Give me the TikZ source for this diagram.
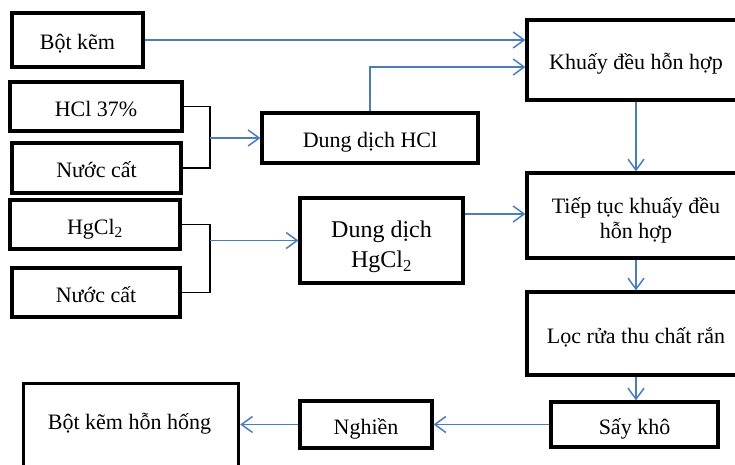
\documentclass[tikz,border=0pt]{standalone}
\usepackage{fontspec}
\setmainfont{Liberation Serif}
\usetikzlibrary{arrows.meta}
\definecolor{arrowblue}{RGB}{74,126,187}
\begin{document}
\begin{tikzpicture}[x=1pt,y=-1pt,
  box/.style={draw, line width=3.2pt, inner sep=0pt, align=center, font=\fontsize{22}{25}\selectfont},
  low/.style={text height=19pt, text depth=0pt},
  txt/.style={inner sep=0pt, font=\fontsize{22}{25}\selectfont},
  flow/.style={draw=arrowblue, line width=1.5pt, -{Straight Barb[length=11pt,width=16pt,line width=1.5pt]}},
  brk/.style={draw=black, line width=1.3pt}]
\useasboundingbox (0,0) rectangle (735,464);
\clip (0,0) rectangle (735,464);
% left inputs
\node[box, low, minimum width=131, minimum height=54] (bk) at (77.5,40) {Bột kẽm};
\node[box, low, minimum width=172, minimum height=49] (hcl) at (96,106.5) {HCl 37\%};
\node[box, low, minimum width=169, minimum height=50] (nc1) at (96.5,168) {Nước cất};
\node[box, low, minimum width=170, minimum height=49] (hg) at (95,224.5) {HgCl\textsubscript{2}};
\node[box, low, minimum width=168, minimum height=49] (nc2) at (96,292.5) {Nước cất};
% middle
\node[box, low, minimum width=216, minimum height=50] (ddhcl) at (370,138) {Dung dịch HCl};
\node[box, minimum width=163, minimum height=85, font=\fontsize{24}{30}\selectfont] (ddhg) at (381.5,240.5) {\rule{0pt}{30pt}Dung dịch\\HgCl\textsubscript{2}};
% right column
\node[box, low, minimum width=218, minimum height=80] (khuay) at (636,60) {Khuấy đều hỗn hợp};
\node[box, minimum width=218, minimum height=85] (tiep) at (636,215.5) {\rule{0pt}{26pt}Tiếp tục khuấy đều\\hỗn hợp};
\node[box, low, minimum width=218, minimum height=83] (loc) at (636,333.5) {Lọc rửa thu chất rắn};
\node[box, low, minimum width=167, minimum height=45] (say) at (634.5,424.5) {Sấy khô};
\node[box, low, minimum width=132, minimum height=47] (ngh) at (366,424.5) {Nghiền};
\node[box, minimum width=215, minimum height=100, anchor=north west] (bkhh) at (22,382) {};
\node[txt] (bkhhtext) at (129.5,424) {Bột kẽm hỗn hống};
% junctions
\coordinate (j1) at (210,138);
\coordinate (j2) at (210,240.5);
% connectors
\draw[flow] (bk.east) -- (bk.east -| khuay.west);
\draw[flow] (ddhcl.north) |- ([yshift=-7pt]khuay.west);
\draw[brk] (hcl.east) -| (j1) |- (nc1.east);
\draw[flow] (j1) -- (ddhcl.west);
\draw[brk] (hg.east) -| (j2) |- (nc2.east);
\draw[flow] (j2) -- (ddhg.west);
\draw[flow] ([yshift=26.5pt]ddhg.east) -- ([yshift=26.5pt]ddhg.east -| tiep.west);
\draw[flow] (khuay.south) -- (tiep.north);
\draw[flow] (tiep.south) -- (loc.south |- loc.north);
\draw[flow] (loc.south) -- (loc.south |- say.north);
\draw[flow] (say.west) -- (ngh.east);
\draw[flow] (ngh.west) -- (ngh.west -| bkhh.east);
\end{tikzpicture}
\end{document}
